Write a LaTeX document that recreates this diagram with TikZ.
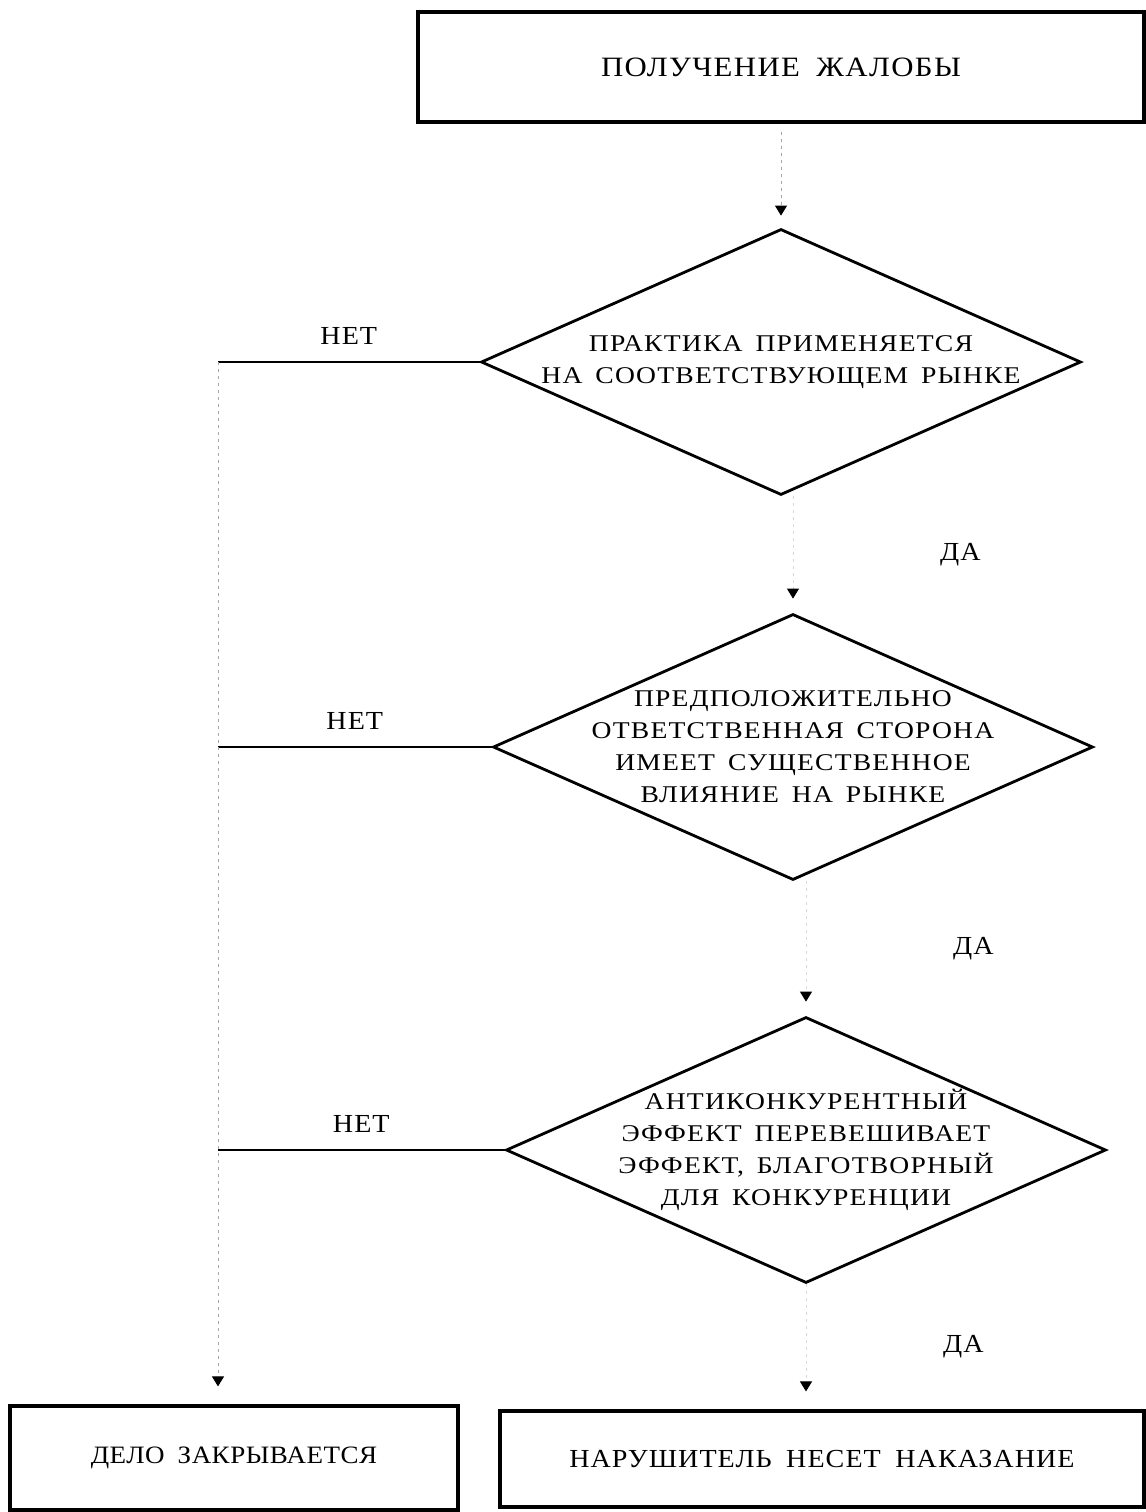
\documentclass[tikz,border=0pt]{standalone}
\usepackage{fontspec}
\setmainfont{Liberation Serif}[FakeStretch=1.08,LetterSpace=4,WordSpace=1.8]
\newfontfamily\headfont{Liberation Serif}[FakeStretch=1.1,LetterSpace=5,WordSpace=1.8]
\newfontfamily\askfont{Liberation Serif}[FakeStretch=1.15,LetterSpace=5,WordSpace=1.6]
\newfontfamily\endfont{Liberation Serif}[FakeStretch=1.08,LetterSpace=2,WordSpace=1.8]
\usetikzlibrary{arrows.meta,positioning,shapes.geometric}

\begin{document}
\begin{tikzpicture}[x=0.5pt,y=-0.5pt, box/.style={draw,line width=1.6pt,align=center,font=\fontsize{13}{16}\selectfont}, decision/.style={diamond,draw,line width=1.4pt,minimum width=300pt,minimum height=133pt,inner sep=0pt}, dtext/.style={align=center,font=\askfont\fontsize{12}{16}\selectfont}, link/.style={gray!70,line width=0.5pt,dash pattern=on 1.5pt off 2pt,-{Triangle[width=6pt,length=5pt,color=black]}}, no/.style={line width=1.1pt}, lbl/.style={black,font=\fontsize{13}{16}\selectfont}]
\useasboundingbox (0,0) rectangle (1146,1512);
\node[box,minimum width=363pt,minimum height=55pt,font=\headfont\fontsize{14}{16}\selectfont] (recv) at (781,67) {ПОЛУЧЕНИЕ ЖАЛОБЫ};
\node[decision,label={[dtext]center:ПРАКТИКА ПРИМЕНЯЕТСЯ\\НА СООТВЕТСТВУЮЩЕМ РЫНКЕ}] (d1) at (781,362) {};
\node[decision,label={[dtext]center:ПРЕДПОЛОЖИТЕЛЬНО\\ОТВЕТСТВЕННАЯ СТОРОНА\\ИМЕЕТ СУЩЕСТВЕННОЕ\\ВЛИЯНИЕ НА РЫНКЕ}] (d2) at (793,747) {};
\node[decision,label={[dtext]center:АНТИКОНКУРЕНТНЫЙ\\ЭФФЕКТ ПЕРЕВЕШИВАЕТ\\ЭФФЕКТ, БЛАГОТВОРНЫЙ\\ДЛЯ КОНКУРЕНЦИИ}] (d3) at (806,1150) {};
\node[box,minimum width=224pt,minimum height=52pt,font=\endfont\fontsize{12.5}{16}\selectfont] (close) at (234,1458) {ДЕЛО ЗАКРЫВАЕТСЯ};
\node[box,minimum width=322pt,minimum height=48pt] (punish) at (822,1459) {НАРУШИТЕЛЬ НЕСЕТ НАКАЗАНИЕ};
\coordinate (n1) at (218,362);
\coordinate (n2) at (218,747);
\coordinate (n3) at (218,1150);
% main line
\draw[link,shorten <=4pt,shorten >=6pt] (recv.south -| d1.north) -- (d1.north);
\draw[link,gray!30,shorten >=7pt] (d1.south -| d2.north) -- node[lbl,right=70pt]{ДА} (d2.north);
\draw[link,gray!30,shorten >=7pt] (d2.south -| d3.north) -- node[lbl,right=70pt]{ДА} (d3.north);
\draw[link,gray!30,shorten >=9pt] (d3.south) -- node[lbl,right=65pt]{ДА} (d3.south |- punish.north);
% no branches
\draw[no] (d1.west) -- node[lbl,above=5pt]{НЕТ} (n1);
\draw[no] (d2.west) -- node[lbl,above=5pt]{НЕТ} (n2);
\draw[no] (d3.west) -- node[lbl,above=5pt]{НЕТ} (n3);
\draw[link,shorten >=9pt] (n1) -- (close.north -| n1);
\end{tikzpicture}
\end{document}
